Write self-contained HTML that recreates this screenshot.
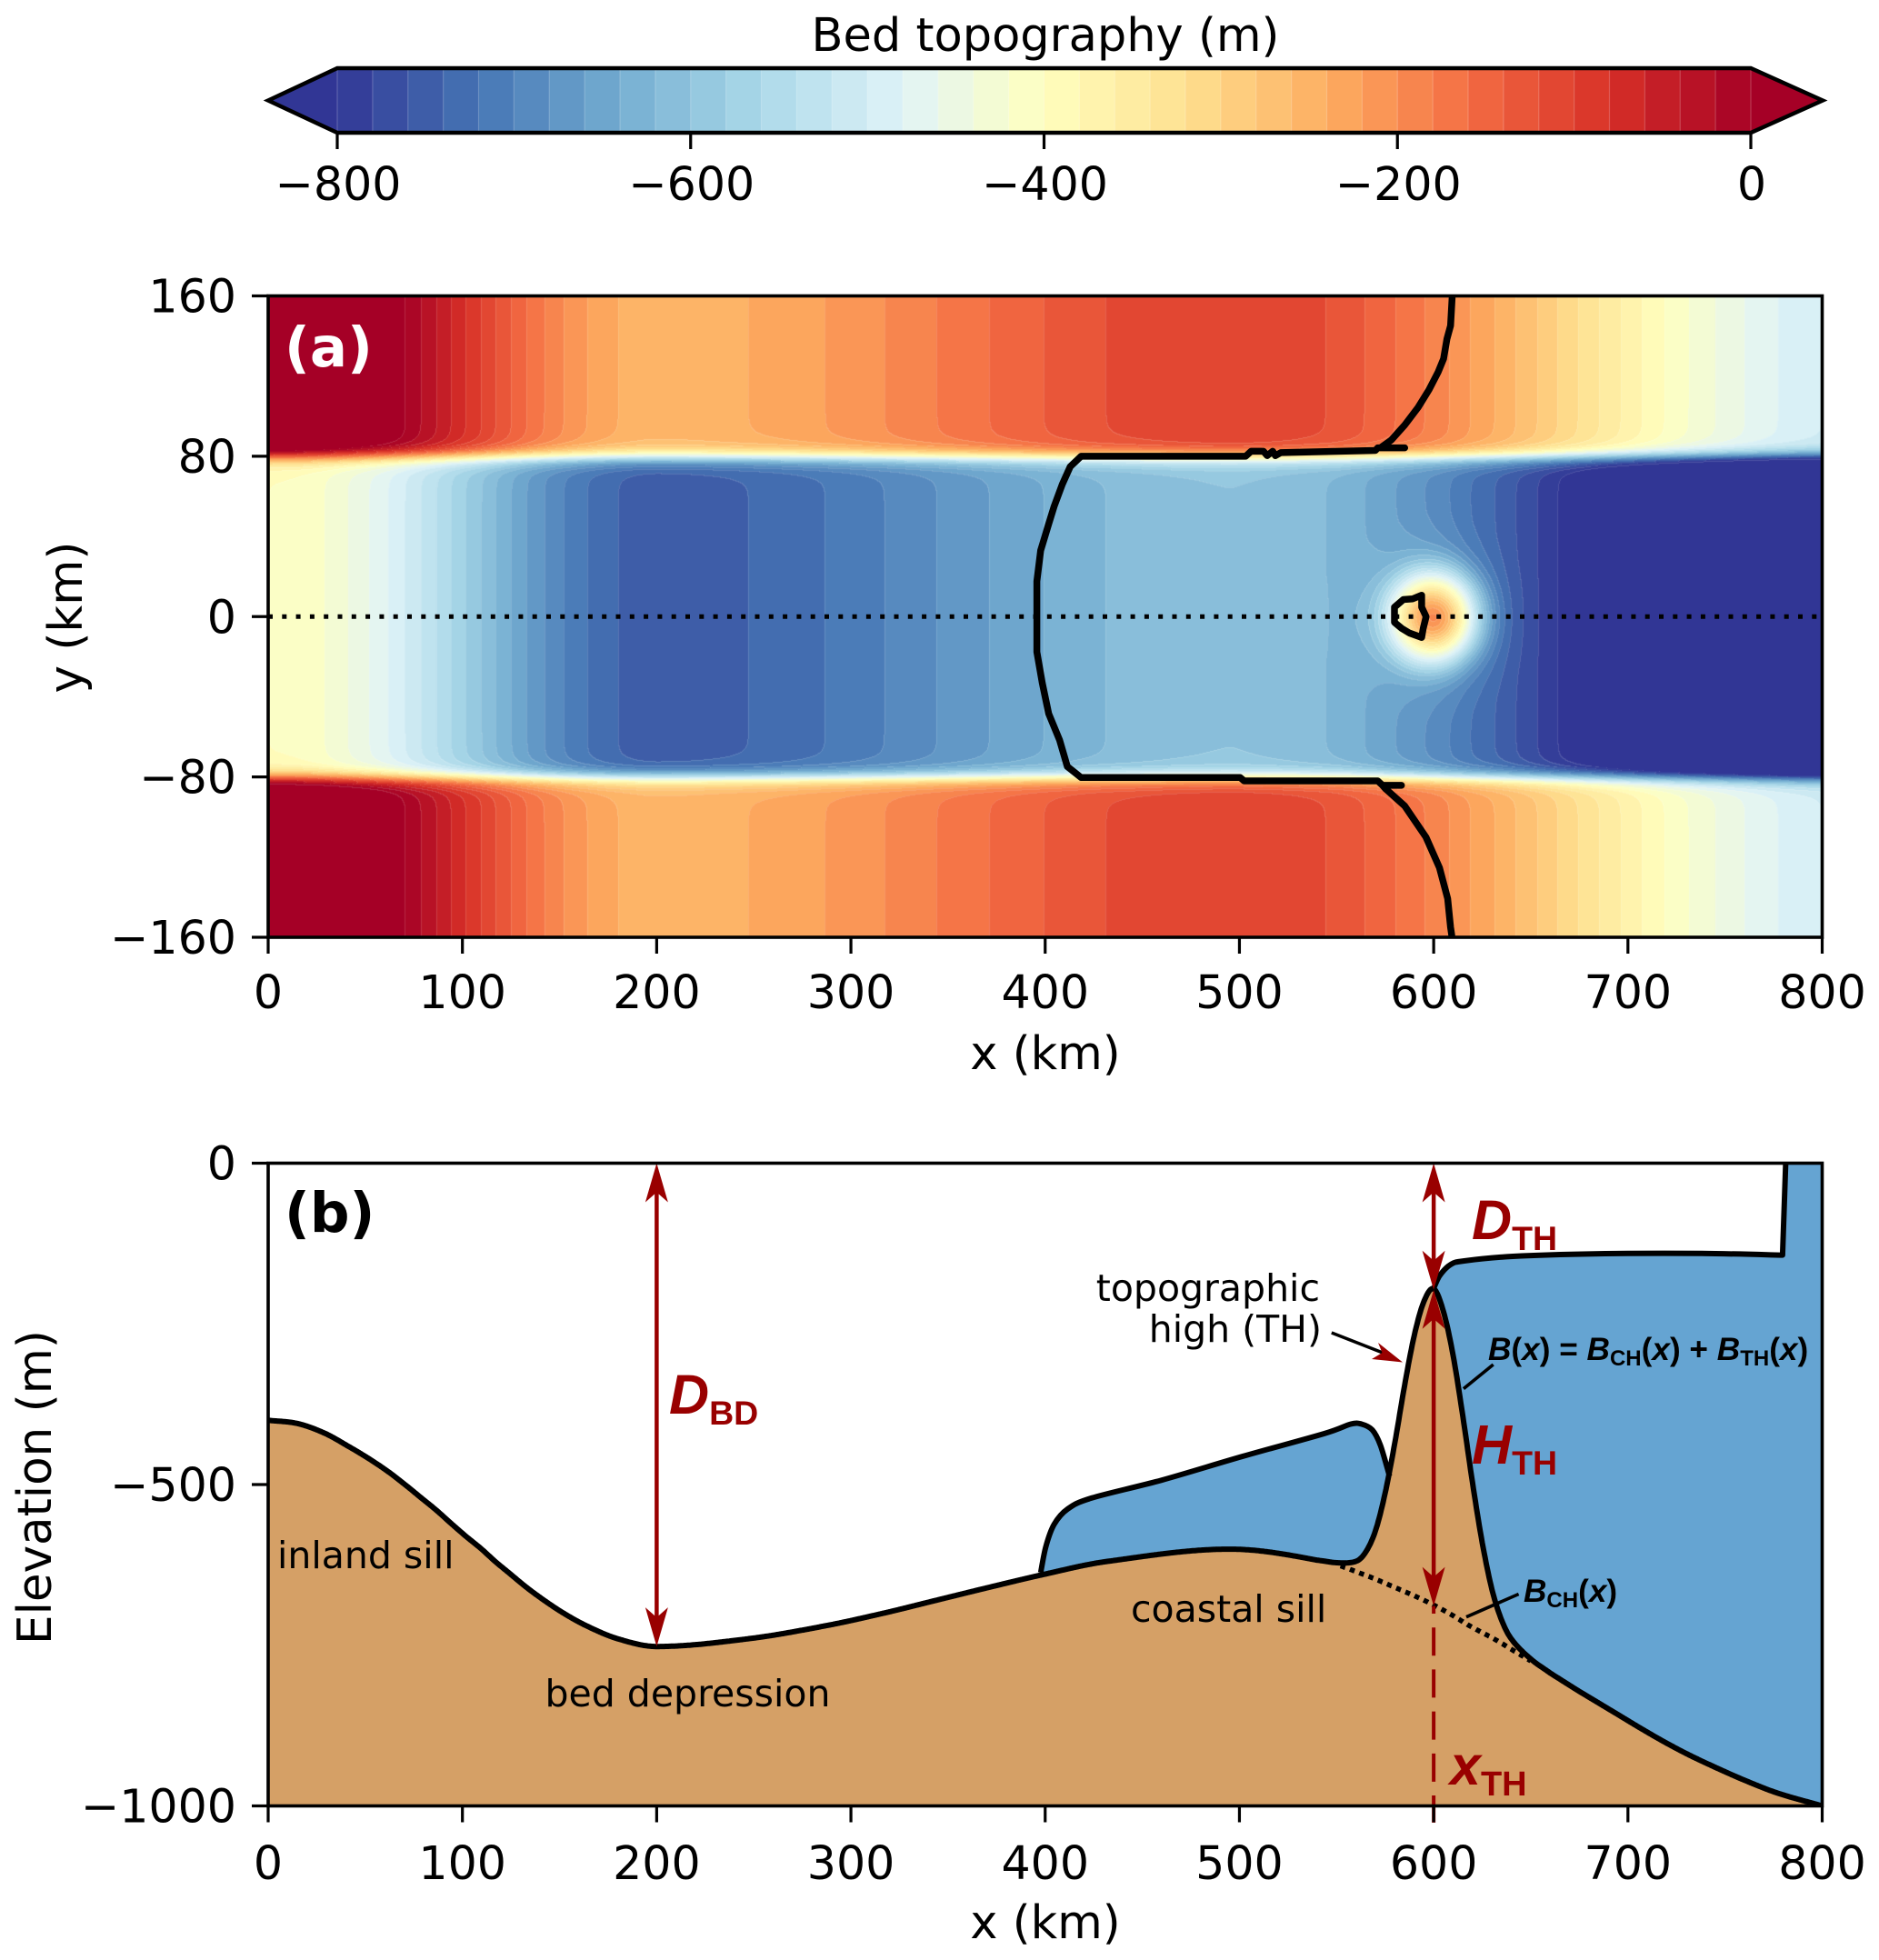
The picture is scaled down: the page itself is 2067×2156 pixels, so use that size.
<!DOCTYPE html>
<html lang="en">
<head>
<meta charset="utf-8">
<title>Bed topography figure</title>
<style>
html,body{margin:0;padding:0;background:#fff}
#figure{position:relative;width:2067px;height:2156px;overflow:hidden;background:#fff}
#heatmap{position:absolute;display:block}
#overlay{position:absolute;left:0;top:0}
text{font-family:"DejaVu Sans","Liberation Sans",sans-serif;fill:#000}
.tick{font-size:50.6px}
.lab{font-size:41px}
.note{font-family:"Liberation Sans",sans-serif;font-weight:bold;fill:#000;font-size:35.2px}
.red{font-family:"Liberation Sans",sans-serif;font-weight:bold;fill:#990000}
.it{font-style:italic}
</style>
</head>
<body>
<div id="figure">
<canvas id="heatmap"></canvas>
<svg id="overlay" width="2067" height="2156" viewBox="0 0 2067 2156" xmlns="http://www.w3.org/2000/svg">
  <defs><clipPath id="clipB"><rect x="295" y="1279" width="1710" height="708"/></clipPath></defs>
  <g id="cbarG"></g>
  <text x="1150" y="56" text-anchor="middle" style="font-size:51px">Bed topography (m)</text>
  <g id="aG"></g>
  <g id="bG"></g>

  <text x="313" y="403" style="font-size:61px;font-weight:bold;fill:#fff">(a)</text>
  <text x="1150" y="1176" text-anchor="middle" style="font-size:51px">x (km)</text>
  <text transform="translate(90,679) rotate(-90)" text-anchor="middle" style="font-size:51.5px">y (km)</text>

  <text x="313" y="1355" style="font-size:61px;font-weight:bold">(b)</text>
  <text x="1150" y="2132" text-anchor="middle" style="font-size:51px">x (km)</text>
  <text transform="translate(56,1636) rotate(-90)" text-anchor="middle" style="font-size:51.5px">Elevation (m)</text>

  <text class="lab" x="305" y="1725">inland sill</text>
  <text class="lab" x="599.5" y="1877">bed depression</text>
  <text class="lab" x="1244" y="1784">coastal sill</text>
  <text class="lab" x="1452" y="1431" text-anchor="end">topographic</text>
  <text class="lab" x="1454" y="1476" text-anchor="end">high (TH)</text>

  <text class="note" x="1637" y="1496"><tspan class="it">B</tspan>(<tspan class="it">x</tspan>) = <tspan class="it">B</tspan><tspan dy="6" font-size="24">CH</tspan><tspan dy="-6">(</tspan><tspan class="it">x</tspan>) + <tspan class="it">B</tspan><tspan dy="6" font-size="24">TH</tspan><tspan dy="-6">(</tspan><tspan class="it">x</tspan>)</text>
  <text class="note" x="1676" y="1762"><tspan class="it">B</tspan><tspan dy="6" font-size="24">CH</tspan><tspan dy="-6">(</tspan><tspan class="it">x</tspan>)</text>

  <text class="red" x="736" y="1555"><tspan class="it" font-size="61">D</tspan><tspan dy="12" font-size="37.5">BD</tspan></text>
  <text class="red" x="1619" y="1363"><tspan class="it" font-size="61">D</tspan><tspan dy="12" font-size="37.5">TH</tspan></text>
  <text class="red" x="1619" y="1610"><tspan class="it" font-size="61">H</tspan><tspan dy="12" font-size="37.5">TH</tspan></text>
  <text class="red" x="1595" y="1963"><tspan class="it" font-size="61">x</tspan><tspan dy="12" font-size="38">TH</tspan></text>
</svg>
</div>
<script>
// ---------- data (x in km, elevation in m) ----------
const channelX = [0,15,29,41,52,61.8,70.4,78.5,86.6,94,101.6,109.7,117,125,133,142,152,164,180,200,247,286.5,317,344,371,399,431,495,544,564,580,595,607.7,618.6,631,642,653,663.5,674,685,696,707,718.5,731,745,760,777,800];
const channelZ = [-400,-405,-420,-440,-460,-480,-500,-520,-540,-560,-580,-600,-620,-640,-660,-680,-700,-720,-740,-752,-740,-720,-700,-680,-660,-640,-620,-600.5,-620,-640,-660,-680,-700,-720,-740,-760,-780,-800,-820,-840,-860,-880,-900,-920,-940,-960,-980,-1000];
const highCentre = 600;
const highOffset = [-60,-50,-40,-35,-30,-25,-20,-15,-10,-5,0,5,10,15,20,25,30,35,40,50,60];
const highHeight = [0,3,16,36,75,140,225,320,405,465,492,465,405,320,225,140,75,36,16,3,0];
const wallHeight = 500;
const wallCentre = 80;
const wallWidth = 2.2;
const leftIceX = [397.7,400.4,404.6,411.6,424,460.1,501.8,543.4,557.3,562.9,568.4,572.6,577.3];
const leftIceZ = [-637,-596,-562,-538,-521,-493,-456,-421,-406,-406,-415,-439,-487];
const rightIceX = [600,603.1,608.6,615.7,640.7,682.4,737.9,779.6];
const rightIceZ = [-195,-175,-158,-152,-145,-141,-140.5,-143];
const iceCliffX = [781.2,781.5];
const iceCliffZ = [-1.4,0];
const lineTopX = [609.5,608.7,606.8,605.1,602.3,597.6,592,585.1,578.1,572.6,585.1,571.2,570,521.3,518.5,517.1,514.3,512.4,506,503.2,418.5,412.9,408.8,404.6,401.8,397.7,395.7,395.7,395.7,398.5,401.8,407.4,411.4,418.5,500.4,502.4,571.2,573.7,583.4];
const lineTopY = [159,145.1,138.5,128.6,122,113.2,104.4,95.6,88,84.2,84.2,84.2,82.9,81.8,80.3,82.5,80.3,82.5,82.5,80,80,74.8,66,55,46.2,33,17.6,0,-17.6,-33,-48.4,-61.6,-74.8,-80.3,-80.3,-82,-82,-84.2,-84.2];
const lineLowX = [573.7,575.1,585.1,596,603,607.2,608.7,609.3];
const lineLowY = [-84.2,-85.8,-94.5,-110,-125.3,-140.7,-155,-159];
const islandX = [579.8,579.8,584.4,589.1,593.8,593.8,596.1,594.6,593.8,587.5,583.6,579.8];
const islandY = [0,4.7,8.5,8.8,10.7,4.7,0,-5.9,-10.4,-8.2,-5.9,-2.9];
const xTickLabels = [0,100,200,300,400,500,600,700,800];
const aYTickLabels = [160,80,0,-80,-160];
const bYTickLabels = [0,-500,-1000];
const cbarTicks = [-800,-600,-400,-200,0];
const cbarStep = 20;
const cbarMin = -800;
const cbarMax = 0;
const depthBD = [200,0,-752];
const depthTH = [600,0,-197];
const heightTH = [600,-197,-689];
const dashTH = [600,-689,-1026];
const cmapAnchors = [[49,54,149],[69,117,180],[116,173,209],[171,217,233],[224,243,248],[255,255,191],[254,224,144],[253,174,97],[244,109,67],[215,48,39],[165,0,38]];

// ---------- axes ----------
const AX0 = 295, AX1 = 2004.5, AY0 = 325.5, AY1 = 1031, BY0 = 1279.5, BY1 = 1986.5;
const CX0 = 371, CX1 = 1926, CY0 = 75, CY1 = 146;
const xScale = km => AX0 + km * (AX1 - AX0) / 800;
const yA = y => AY0 + (160 - y) * (AY1 - AY0) / 320;
const yB = z => BY0 + (0 - z) * (BY1 - BY0) / 1000;
const cbX = z => CX0 + (z - cbarMin) * (CX1 - CX0) / (cbarMax - cbarMin);
const NS = 'http://www.w3.org/2000/svg';
function svgEl(tag, attrs, parent) {
  const e = document.createElementNS(NS, tag);
  for (const k in attrs) e.setAttribute(k, attrs[k]);
  parent.appendChild(e);
  return e;
}
const fmt = v => String(v).replace('-', '\u2212');

// ---------- interpolation ----------
function interp(xs, ys, x) {
  const n = xs.length;
  if (x <= xs[0]) return ys[0];
  if (x >= xs[n - 1]) return ys[n - 1];
  let i = 0, j = n - 1;
  while (j - i > 1) { const m = (i + j) >> 1; if (xs[m] <= x) i = m; else j = m; }
  const h = xs[j] - xs[i], t = (x - xs[i]) / h;
  const m0 = i > 0 ? (ys[j] - ys[i - 1]) / (xs[j] - xs[i - 1]) : (ys[j] - ys[i]) / h;
  const m1 = j < n - 1 ? (ys[j + 1] - ys[i]) / (xs[j + 1] - xs[i]) : (ys[j] - ys[i]) / h;
  const t2 = t * t, t3 = t2 * t;
  return (2*t3 - 3*t2 + 1) * ys[i] + (t3 - 2*t2 + t) * h * m0 + (-2*t3 + 3*t2) * ys[j] + (t3 - t2) * h * m1;
}
const channelAt = x => interp(channelX, channelZ, x);
const highAt = d => interp(highOffset, highHeight, d);
const bedAt = x => channelAt(x) + highAt(x - highCentre);
const wallAt = y => wallHeight / (1 + Math.exp(-(Math.abs(y) - wallCentre) / wallWidth));

function cmap(v) {
  const p = Math.min(Math.max(v, 0), 1) * (cmapAnchors.length - 1);
  const i = Math.min(Math.floor(p), cmapAnchors.length - 2), f = p - i;
  return [0, 1, 2].map(c => Math.round(cmapAnchors[i][c] + (cmapAnchors[i + 1][c] - cmapAnchors[i][c]) * f));
}
const bandCount = (cbarMax - cbarMin) / cbarStep;
const bandRGB = [];
for (let i = 0; i < bandCount; i++) bandRGB.push(cmap((i + 0.5) / bandCount));
const underRGB = cmap(0), overRGB = cmap(1);
function bandIndex(z) {
  if (z < cbarMin) return -1;
  if (z >= cbarMax) return bandCount;
  return Math.floor((z - cbarMin) / cbarStep);
}
function bandColor(k) {
  if (k < 0) return underRGB;
  if (k >= bandCount) return overRGB;
  return bandRGB[k];
}
const css = c => 'rgb(' + c.join(',') + ')';

// ---------- colorbar ----------
const cbar = document.getElementById('cbarG');
const cbMid = (CY0 + CY1) / 2;
const under = svgEl('polygon', {points: `${CX0},${CY0} ${CX0},${CY1} 295,${cbMid}`, fill: css(underRGB)}, cbar);


const over = svgEl('polygon', {points: `${CX1},${CY0} ${CX1},${CY1} 2005,${cbMid}`, fill: css(overRGB)}, cbar);


for (let i = 0; i < bandCount; i++) {
  const z0 = cbarMin + i * cbarStep;
  const band = svgEl('rect', {x: cbX(z0), y: CY0, width: cbX(z0 + cbarStep) - cbX(z0) + 0.4, height: CY1 - CY0, fill: css(bandRGB[i])}, cbar);
  
  
}
for (let i = 0; i <= bandCount; i++) {
  const zs = cbarMin + i * cbarStep;
  const seam = svgEl('line', {x1: cbX(zs), x2: cbX(zs), y1: CY0, y2: CY1, stroke: '#fff', 'stroke-width': 1.2, 'stroke-opacity': 0.2}, cbar);
  
  
}
const cbOutline = svgEl('polygon', {points: `295,${cbMid} ${CX0},${CY0} ${CX1},${CY0} 2005,${cbMid} ${CX1},${CY1} ${CX0},${CY1}`, fill: 'none', stroke: '#000', 'stroke-width': 4.5, 'stroke-linejoin': 'miter'}, cbar);


cbarTicks.forEach(v => {
  const t = svgEl('line', {x1: cbX(v), x2: cbX(v), y1: CY1, y2: CY1 + 18, stroke: '#000', 'stroke-width': 3.2}, cbar);
  
  
  const l = svgEl('text', {x: cbX(v) + 1, y: 220, 'text-anchor': 'middle', class: 'tick'}, cbar);
  
  
  l.textContent = fmt(v);
});

// ---------- panel (a) heatmap ----------
const cv = document.getElementById('heatmap');
const W = Math.round(AX1 - AX0), H = Math.round(AY1 - AY0);
cv.width = W; cv.height = H;
cv.style.left = AX0 + 'px';
cv.style.top = AY0 + 'px';
const ctx = cv.getContext('2d');
const img = ctx.createImageData(W, H);
const colX = [], colZ = [];
for (let i = 0; i < W; i++) { const km = (i + 0.5) * 800 / W; colX.push(km); colZ.push(channelAt(km)); }
const bandGrid = new Int16Array(W * H);
for (let j = 0; j < H; j++) {
  const y = 160 - (j + 0.5) * 320 / H;
  const w = wallAt(y);
  for (let i = 0; i < W; i++) {
    let z = colZ[i] + w;
    const dx = colX[i] - highCentre;
    const r2 = dx * dx + y * y;
    if (r2 < 3600) z += highAt(Math.sqrt(r2));
    bandGrid[j * W + i] = bandIndex(z);
  }
}
const seamAlpha = 0.14;
let p = 0;
for (let j = 0; j < H; j++) {
  for (let i = 0; i < W; i++) {
    const at = j * W + i, k = bandGrid[at];
    const c = bandColor(k);
    const edgeX = i > 0 && i + 2 < W && bandGrid[at - 1] !== k && bandGrid[at + 1] === k && bandGrid[at + 2] === k;
    const edgeY = j > 0 && j + 2 < H && bandGrid[at - W] !== k && bandGrid[at + W] === k && bandGrid[at + 2 * W] === k;
    const a = (edgeX || edgeY) ? seamAlpha : 0;
    img.data[p++] = c[0] + (255 - c[0]) * a;
    img.data[p++] = c[1] + (255 - c[1]) * a;
    img.data[p++] = c[2] + (255 - c[2]) * a;
    img.data[p++] = 255;
  }
}
ctx.putImageData(img, 0, 0);

const aG = document.getElementById('aG');
const centre = svgEl('line', {x1: xScale(0), x2: xScale(800), y1: yA(0), y2: yA(0), stroke: '#000', 'stroke-width': 5, 'stroke-dasharray': '5 10.3'}, aG);


const poly = (xs, ys) => xs.map((x, i) => xScale(x).toFixed(1) + ',' + yA(ys[i]).toFixed(1)).join(' ');
const styleGL = {fill: 'none', stroke: '#000', 'stroke-width': 7.5, 'stroke-linejoin': 'round', 'stroke-linecap': 'round'};
const gl1 = svgEl('polyline', Object.assign({points: poly(lineTopX, lineTopY)}, styleGL), aG);


const gl2 = svgEl('polyline', Object.assign({points: poly(lineLowX, lineLowY)}, styleGL), aG);


const gl3 = svgEl('polygon', Object.assign({points: poly(islandX, islandY)}, styleGL), aG);


const frameA = svgEl('rect', {x: AX0, y: AY0, width: AX1 - AX0, height: AY1 - AY0, fill: 'none', stroke: '#000', 'stroke-width': 3.6}, aG);


xTickLabels.forEach(v => {
  const t = svgEl('line', {x1: xScale(v), x2: xScale(v), y1: AY1, y2: AY1 + 18, stroke: '#000', 'stroke-width': 3.2}, aG);
  
  
  const l = svgEl('text', {x: xScale(v), y: 1109, 'text-anchor': 'middle', class: 'tick'}, aG);
  
  
  l.textContent = fmt(v);
});
aYTickLabels.forEach(v => {
  const t = svgEl('line', {x1: AX0 - 18, x2: AX0, y1: yA(v), y2: yA(v), stroke: '#000', 'stroke-width': 3.2}, aG);
  
  
  const l = svgEl('text', {x: 260, y: yA(v) + 18, 'text-anchor': 'end', class: 'tick'}, aG);
  
  
  l.textContent = fmt(v);
});

// ---------- panel (b) ----------
const bG = document.getElementById('bG');
const plot = svgEl('g', {'clip-path': 'url(#clipB)'}, bG);



function samplePath(fn, x0, x1) {
  const pts = [];
  const step = 0.5 * Math.sign(x1 - x0);
  for (let x = x0; step > 0 ? x < x1 : x > x1; x += step) pts.push(xScale(x).toFixed(1) + ' ' + yB(fn(x)).toFixed(1));
  pts.push(xScale(x1).toFixed(1) + ' ' + yB(fn(x1)).toFixed(1));
  return pts;
}
function smoothPath(xs, zs) {
  const P = xs.map((x, i) => [xScale(x), yB(zs[i])]);
  let d = 'M' + P[0][0].toFixed(1) + ' ' + P[0][1].toFixed(1);
  for (let i = 0; i < P.length - 1; i++) {
    const a = P[Math.max(i - 1, 0)], b = P[i], c = P[i + 1], e = P[Math.min(i + 2, P.length - 1)];
    d += 'C' + (b[0] + (c[0] - a[0]) / 6).toFixed(1) + ' ' + (b[1] + (c[1] - a[1]) / 6).toFixed(1) + ' ' +
         (c[0] - (e[0] - b[0]) / 6).toFixed(1) + ' ' + (c[1] - (e[1] - b[1]) / 6).toFixed(1) + ' ' +
         c[0].toFixed(1) + ' ' + c[1].toFixed(1);
  }
  return d;
}
const BROWN = '#d5a066', BLUE = '#65a4d2', RED = '#990000';
const rock = svgEl('path', {d: 'M' + samplePath(bedAt, 0, 800).join('L') + 'L' + xScale(800) + ' ' + yB(-1000) + 'L' + xScale(0) + ' ' + yB(-1000) + 'Z', fill: BROWN}, plot);



const leftEnd = leftIceX[leftIceX.length - 1];
const leftSurface = smoothPath(leftIceX, leftIceZ);
const iceL = svgEl('path', {d: leftSurface + 'L' + samplePath(bedAt, leftEnd, leftIceX[0]).join('L') + 'Z', fill: BLUE}, plot);



const rightSurface = smoothPath(rightIceX, rightIceZ) + iceCliffX.map((x, i) => 'L' + xScale(x) + ' ' + yB(iceCliffZ[i])).join('');
const iceR = svgEl('path', {d: rightSurface + 'L' + xScale(800) + ' ' + yB(0) + 'L' + samplePath(bedAt, 800, highCentre).join('L') + 'Z', fill: BLUE}, plot);



const lineStyle = {fill: 'none', stroke: '#000', 'stroke-width': 6, 'stroke-linejoin': 'round'};
const surfL = svgEl('path', Object.assign({d: leftSurface}, lineStyle), plot);


const surfR = svgEl('path', Object.assign({d: rightSurface}, lineStyle), plot);


const bedLine = svgEl('path', Object.assign({d: 'M' + samplePath(bedAt, 0, 800).join('L')}, lineStyle), plot);


const chLine = svgEl('path', {d: 'M' + samplePath(channelAt, 552, 650).join('L'), fill: 'none', stroke: '#000', 'stroke-width': 5.5, 'stroke-dasharray': '5.5 5.5'}, plot);



const lead1 = svgEl('line', {x1: 1642.7, y1: 1501, x2: 1610, y2: 1527.6, stroke: '#000', 'stroke-width': 3.6}, bG);


const lead2 = svgEl('line', {x1: 1670.6, y1: 1753.5, x2: 1613, y2: 1778.7, stroke: '#000', 'stroke-width': 3.6}, bG);


const lead3 = svgEl('line', {x1: 1464.8, y1: 1466, x2: 1521, y2: 1488, stroke: '#000', 'stroke-width': 3.6}, bG);


const head3 = svgEl('polygon', {points: '1543,1498.5 1516,1477 1520.5,1488 1509,1495', fill: RED}, bG);



function arrowHead(px, py, dir) {
  return `${px},${py} ${px - 12.5},${py + dir * 43} ${px},${py + dir * 32} ${px + 12.5},${py + dir * 43}`;
}
[depthBD, depthTH, heightTH].forEach(a => {
  const px = xScale(a[0]), y0 = yB(a[1]), y1 = yB(a[2]);
  const shaft = svgEl('line', {x1: px, x2: px, y1: y0 + 15, y2: y1 - 15, stroke: RED, 'stroke-width': 4.5}, bG);
  
  
  const h0 = svgEl('polygon', {points: arrowHead(px, y0, 1), fill: RED}, bG);
  
  
  const h1 = svgEl('polygon', {points: arrowHead(px, y1, -1), fill: RED}, bG);
  
  
});
const dash = svgEl('line', {x1: xScale(dashTH[0]), x2: xScale(dashTH[0]), y1: yB(dashTH[1]), y2: yB(dashTH[2]), stroke: RED, 'stroke-width': 4, 'stroke-dasharray': '31 15.2', 'stroke-dashoffset': 22.6}, bG);



const frameB = svgEl('rect', {x: AX0, y: BY0, width: AX1 - AX0, height: BY1 - BY0, fill: 'none', stroke: '#000', 'stroke-width': 3.6}, bG);


xTickLabels.forEach(v => {
  const t = svgEl('line', {x1: xScale(v), x2: xScale(v), y1: BY1, y2: BY1 + 18, stroke: '#000', 'stroke-width': 3.2}, bG);
  
  
  const l = svgEl('text', {x: xScale(v), y: 2067, 'text-anchor': 'middle', class: 'tick'}, bG);
  
  
  l.textContent = fmt(v);
});
bYTickLabels.forEach(v => {
  const t = svgEl('line', {x1: AX0 - 18, x2: AX0, y1: yB(v), y2: yB(v), stroke: '#000', 'stroke-width': 3.2}, bG);
  
  
  const l = svgEl('text', {x: 260, y: yB(v) + 18, 'text-anchor': 'end', class: 'tick'}, bG);
  
  
  l.textContent = fmt(v);
});
</script>
</body>
</html>
